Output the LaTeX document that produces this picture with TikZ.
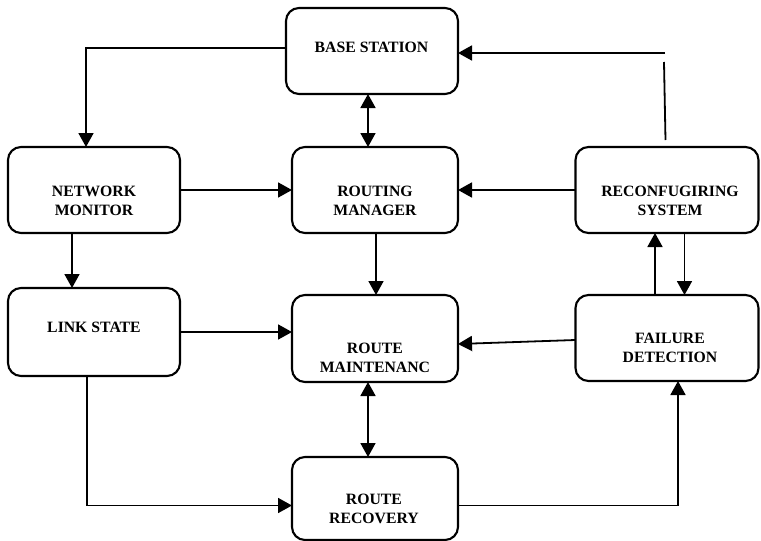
\documentclass[tikz,border=0pt]{standalone}
\usepackage{fontspec}
\setmainfont{Liberation Serif}
\usetikzlibrary{arrows.meta,calc}
\begin{document}
\begin{tikzpicture}[x=1pt,y=-1pt,
  box/.style={draw,line width=2.1pt,rounded corners=13pt,inner sep=0pt,outer sep=0pt},
  lbl/.style={align=center,inner sep=0pt,font=\bfseries\fontsize{15.75}{19}\selectfont},
  con/.style={line width=1.8pt},
  arr/.style={con,-{Triangle[length=14pt,width=15pt]}},
  darr/.style={con,{Triangle[length=14pt,width=15pt]}-{Triangle[length=14pt,width=15pt]}}]
\useasboundingbox (0,0) rectangle (761,541);
% boxes
\node[box,minimum width=172pt,minimum height=86pt] (bs)  at (372,51) {};
\node[box,minimum width=172pt,minimum height=86pt] (nm)  at (94,190) {};
\node[box,minimum width=166pt,minimum height=86pt] (rm)  at (375,190) {};
\node[box,minimum width=183pt,minimum height=86pt] (rc)  at (667,190) {};
\node[box,minimum width=172pt,minimum height=88pt] (ls)  at (94,332) {};
\node[box,minimum width=166pt,minimum height=87pt] (rma) at (375,338.5) {};
\node[box,minimum width=183pt,minimum height=86pt] (fd)  at (667,338) {};
\node[box,minimum width=166pt,minimum height=83pt] (rr)  at (375,498.5) {};
% texts
\node[lbl] (bst)  at (371.5,47) {BASE STATION};
\node[lbl] (nmt)  at (94,200.5) {NETWORK\\MONITOR};
\node[lbl] (rmt)  at (375,200.5) {ROUTING\\MANAGER};
\node[lbl] (rct)  at (670,200.5) {RECONFUGIRING\\SYSTEM};
\node[lbl] (lst)  at (94,327) {LINK STATE};
\node[lbl] (rmat) at (375,357.5) {ROUTE\\MAINTENANC};
\node[lbl] (fdt)  at (670,347.5) {FAILURE\\DETECTION};
\node[lbl] (rrt)  at (374,509) {ROUTE\\RECOVERY};
% helper coordinates
\coordinate (bsw) at ($(bs.west)+(0,-3)$);
\coordinate (nmn) at ($(nm.north)+(-8,0)$);
\coordinate (nms) at ($(nm.south)+(-22,0)$);
\coordinate (rcup) at ($(rc.north)+(-2,-94)$);
\coordinate (rcvt) at ($(rc.north)+(-3,-85)$);
\coordinate (rcvb) at ($(rc.north)+(-1.5,-7)$);
\coordinate (lss) at ($(ls.south)+(-7,0)$);
\coordinate (rrw) at ($(rr.west)+(0,7)$);
\coordinate (rre) at ($(rr.east)+(0,7)$);
\coordinate (fds) at ($(fd.south)+(11,0)$);
% connectors
\draw[arr] (bsw) -| (nmn);
\draw[darr] ($(bs.south)+(-4,0)$) -- ($(rm.north)+(-7,0)$);
\draw[arr] (nm.east) -- (rm.west);
\draw[arr] (rc.west) -- (rm.east);
\draw[con] (rcvb) -- (rcvt);
\draw[arr] (rcup) -- (rcup -| bs.east);
\draw[arr] (nms) -- (nms |- ls.north);
\draw[arr] ($(rm.south)+(1,0)$) -- ($(rma.north)+(1,0)$);
\draw[arr] (ls.east) -- (ls.east -| rma.west);
\draw[arr] ($(rc.south)+(17.5,0)$) -- ($(fd.north)+(17.5,0)$);
\draw[arr] ($(fd.north)+(-12,0)$) -- ($(rc.south)+(-12,0)$);
\draw[arr] ($(fd.west)+(0,2)$) -- ($(rma.east)+(0,5.5)$);
\draw[darr] ($(rma.south)+(-7,0)$) -- ($(rr.north)+(-7,0)$);
\draw[arr] (lss) |- (rrw);
\draw[arr] (rre) -| (fds);
\end{tikzpicture}
\end{document}
